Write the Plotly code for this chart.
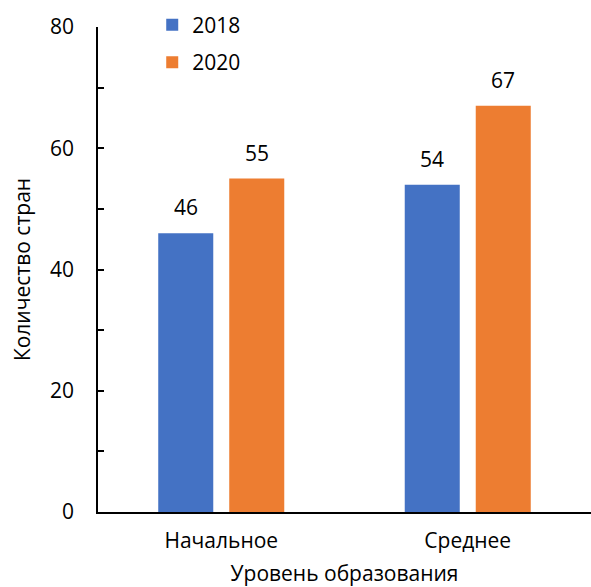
import plotly.graph_objects as go

categories = ["Начальное", "Среднее"]
years = ["2018", "2020"]
values_2018 = [46, 54]
values_2020 = [55, 67]
colors = ["#4472C4", "#ED7D31"]

FONT = "Open Sans, Noto Sans, sans-serif"
FS = 21

fig = go.Figure()
for i, (name, vals) in enumerate(zip(years, [values_2018, values_2020])):
    fig.add_trace(go.Bar(
        x=categories, y=vals, name=name, marker_color=colors[i],
        marker_line_width=0, legendgroup=name,
    ))

# value labels above each bar
offsets = [-35.5, 35.5]
for i, vals in enumerate([values_2018, values_2020]):
    for cat, v in zip(categories, vals):
        fig.add_annotation(
            x=cat, y=v, text=str(v), showarrow=False,
            xshift=offsets[i], yshift=10, yanchor="bottom",
            font=dict(size=FS, color="#000", family=FONT),
        )

fig.update_layout(
    width=591, height=587,
    margin=dict(l=98, r=0, t=27, b=75, autoexpand=False),
    paper_bgcolor="white", plot_bgcolor="white",
    barmode="group", bargap=0.424, bargroupgap=0.225,
    font=dict(family=FONT, size=FS, color="#000"),
    showlegend=True,
    legend=dict(
        x=0.11, y=0.992, xref="paper", yref="container",
        xanchor="left", yanchor="top",
        bgcolor="rgba(0,0,0,0)", tracegroupgap=7,
        font=dict(size=FS, family=FONT),
        itemclick=False,
    ),
    xaxis=dict(
        showline=True, linecolor="#000", linewidth=1.5,
        ticks="", showgrid=False,
        ticklabelstandoff=9,
        title=dict(text="Уровень образования", standoff=22,
                   font=dict(size=FS)),
        tickfont=dict(size=FS),
    ),
    yaxis=dict(
        range=[0, 80], tickvals=[0, 20, 40, 60, 80],
        showline=True, linecolor="#000", linewidth=1.5,
        ticks="inside", ticklen=6, tickcolor="#000", tickwidth=1.5,
        minor=dict(dtick=10, ticks="inside", ticklen=6,
                   tickcolor="#000", tickwidth=1.5, showgrid=False),
        showgrid=False, zeroline=False,
        ticklabelstandoff=18,
        tickfont=dict(size=FS),
        title=dict(text="Количество стран", standoff=14,
                   font=dict(size=FS)),
    ),
)

fig.write_html("out.html")
